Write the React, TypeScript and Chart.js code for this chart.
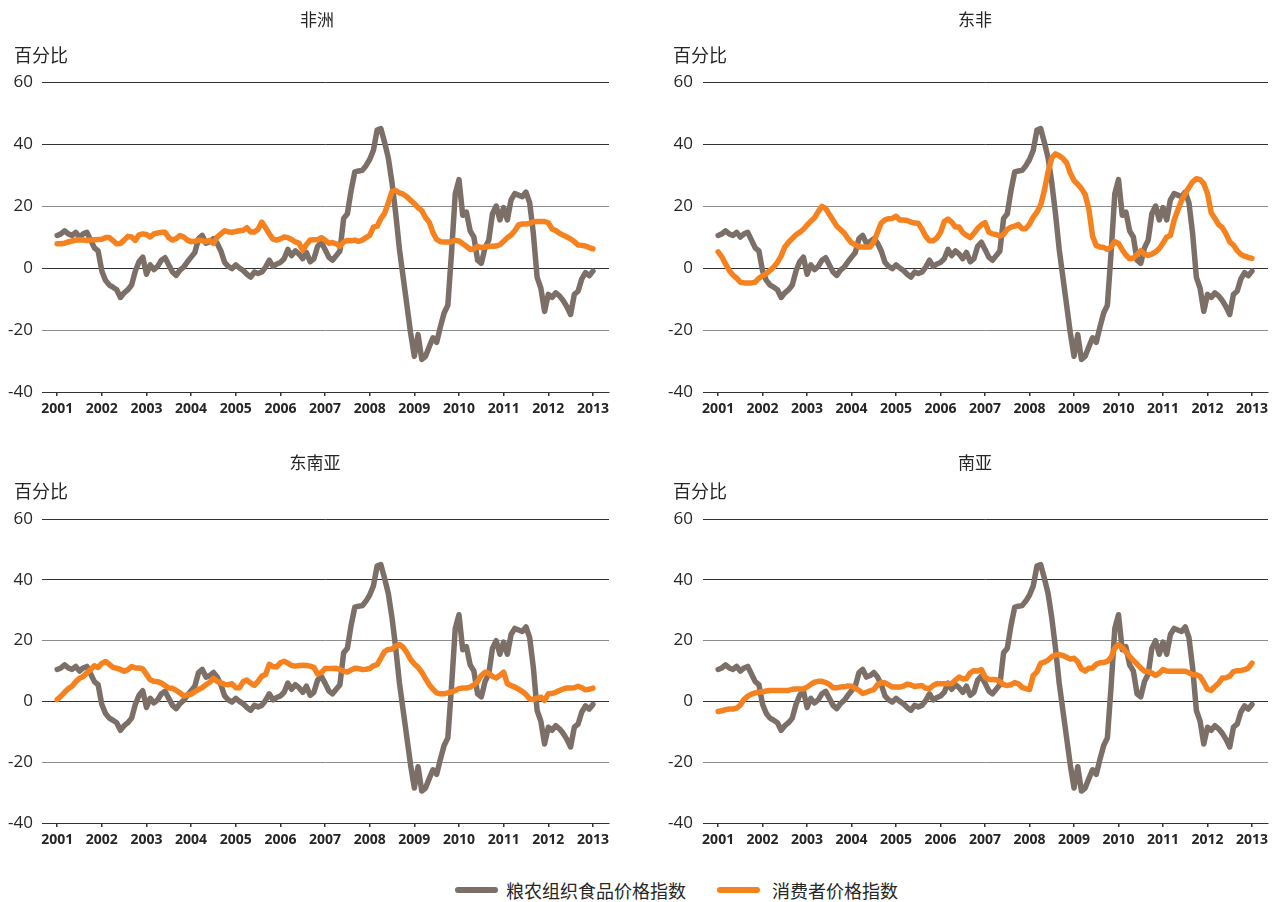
import React, { useEffect, useRef } from 'react';
import { Chart, registerables } from 'chart.js';

Chart.register(...registerables);

// ---------- data ----------
// monthly observations, Jan 2001 .. Jan 2013
const monthPositions: number[] = Array.from({ length: 145 }, (_, i) => 2001 + i / 12);
const yearTicks = [2001, 2002, 2003, 2004, 2005, 2006, 2007, 2008, 2009, 2010, 2011, 2012, 2013];
const valueTicks = [-40, -20, 0, 20, 40, 60];

const panelTitles = ['非洲', '东非', '东南亚', '南亚'];
const unitLabel = '百分比';
const seriesNames = ['粮农组织食品价格指数', '消费者价格指数'];

const faoFoodPriceIndex = [
  10.5, 11, 12, 11, 10.5, 11.5, 10, 11, 11.5, 9, 6.5, 5.5,
  -1, -4, -5.5, -6.2, -7, -9.5, -8, -7, -5.5, -1, 2, 3.5,
  -2, 1, -0.5, 0.5, 2.5, 3.3, 1, -1.3, -2.4, -0.7, 0.3, 2,
  3.5, 5, 9.5, 10.5, 8, 8.5, 9.5, 8, 5.5, 1.8, 0.5, -0.2,
  1, 0, -0.8, -2, -2.9, -1.3, -1.8, -1.3, 0.3, 2.5, 0.5, 1.3,
  1.8, 3, 6, 4, 5.5, 4.5, 3, 5, 2, 3, 7, 8.3,
  6, 3.5, 2.5, 4, 5.5, 16, 17.5, 25, 31, 31.3, 31.5, 33,
  35, 38, 44.5, 45, 40.5, 35.5, 27.5, 17.5, 6, -3, -12, -21,
  -28.5, -21.5, -29.5, -28.5, -25.4, -22.5, -24, -19, -14.5, -12, 5, 24,
  28.5, 17, 18, 12, 10, 2.5, 1.5, 6.5, 9, 17.5, 20, 15.5,
  19.5, 15.5, 22, 24, 23.5, 23, 24.5, 21, 11, -3, -6.5, -14,
  -8.5, -9.5, -8, -9, -10.5, -12.5, -15, -8.5, -7.5, -3.5, -1.5, -2.5, -1,
];

const cpiAfrica = [
  7.8, 7.8, 8, 8.4, 8.7, 9, 9.1, 9, 8.9, 9, 9.1, 9.2,
  9.3, 9.8, 9.8, 8.8, 7.8, 7.9, 9, 10.2, 10, 8.9, 10.7, 11,
  10.8, 10, 11, 11.3, 11.5, 11.5, 9.8, 9, 9.5, 10.5, 10, 9,
  8.5, 8.6, 9, 8.8, 8.5, 8.9, 7.9, 10, 11, 12, 11.7, 11.5,
  11.8, 12, 12.2, 13, 11.6, 11.6, 12.5, 14.8, 13, 11, 9.3, 9,
  9.4, 10, 9.8, 9.2, 8.4, 8, 5.7, 7.6, 9, 9.1, 9.1, 9.8,
  9, 8, 8.2, 7.8, 7, 8.4, 8.9, 8.8, 9, 8.6, 9, 9.8,
  10.5, 13.2, 13.5, 15.9, 17.6, 21, 24.7, 25, 24.2, 23.8, 23, 21.8,
  20.8, 19.5, 18.5, 16.3, 14.8, 11.4, 9.2, 8.5, 8.4, 8.4, 8.5, 8.9,
  8.7, 7.8, 7, 6, 6.1, 7, 6.6, 6.8, 7, 7, 7.1, 7.5,
  8.6, 9.8, 10.6, 12, 13.9, 14.2, 14.2, 14.4, 14.9, 15, 15, 15,
  14.6, 12.6, 12.1, 11.2, 10.6, 10, 9.4, 8.5, 7.4, 7.3, 7.1, 6.6, 6.2,
];

const cpiEastAfrica = [
  5.2, 3.6, 1.3, -0.8, -2.3, -3.3, -4.6, -4.8, -4.8, -4.8, -4.6, -3.3,
  -2.5, -1.8, -0.8, 0.3, 1.8, 3.9, 6.8, 8.3, 9.5, 10.7, 11.5, 12.5,
  13.8, 15.1, 16.2, 18.2, 19.9, 19.2, 17.3, 15.4, 13.5, 12.4, 11.3, 9.5,
  8.1, 7.5, 6.8, 6.8, 6.8, 6.8, 8.5, 11.5, 14.5, 15.5, 15.9, 16,
  16.7, 15.5, 15.5, 15.3, 14.8, 14.5, 14.4, 12.5, 10.2, 8.8, 8.8, 9.7,
  11.5, 15, 15.8, 14.8, 13.2, 13.2, 11.4, 10.5, 9.8, 11.2, 12.8, 13.9,
  14.6, 11.6, 11, 10.8, 10.3, 10.8, 12.5, 13.2, 13.5, 14, 12.7, 12.7,
  14.2, 16.4, 18, 20.3, 25, 31, 35.5, 36.8, 36.2, 35.3, 33.9, 30.6,
  28.2, 27, 25.6, 23.7, 19, 10.3, 7.2, 6.8, 6.6, 6, 6.8, 8.5,
  7.9, 5.9, 4.2, 3, 3.2, 4.4, 5.6, 4.4, 4.1, 4.5, 5.2, 6.3,
  8, 10, 10.5, 15.4, 18.7, 21.8, 24, 26, 27.8, 28.8, 28.5, 27.2,
  24, 17.8, 16, 14, 13, 11, 8.4, 7.4, 5.6, 4.4, 3.8, 3.4, 3.1,
];

const cpiSoutheastAsia = [
  0.6, 1.7, 3, 4.2, 5, 6.5, 7.6, 8.2, 9.4, 10.5, 11.7, 11.2,
  12.5, 13.1, 12.2, 11.2, 10.9, 10.5, 9.9, 10.4, 11.5, 11, 11, 10.7,
  8.9, 7.1, 6.6, 6.5, 6, 5.2, 4.4, 4.3, 3.6, 2.8, 1.8, 2.1,
  2.4, 3.2, 3.9, 4.5, 5.5, 6.3, 7.6, 6.6, 6.1, 5.6, 5.5, 5.8,
  4.5, 4.5, 6.5, 7, 6, 5.3, 6.6, 8.3, 8.8, 12.2, 11.4, 11.4,
  12.7, 13.2, 12.6, 11.8, 11.6, 11.8, 11.9, 11.8, 11.6, 11.2, 9, 9.5,
  10.8, 10.8, 10.8, 10.9, 10.5, 9.9, 9.7, 10.3, 10.9, 10.8, 10.5, 10.6,
  10.8, 11.7, 12.1, 14.2, 16.4, 17.1, 17.2, 18.2, 18.7, 17.8, 16, 13.8,
  12.3, 11.2, 9.6, 7.5, 5.5, 4, 2.8, 2.5, 2.5, 2.8, 3.1, 3.6,
  4.2, 4.4, 4.4, 4.7, 5.4, 6.5, 8.5, 9.6, 9.2, 8.2, 7.7, 8.6,
  9.6, 5.8, 5.2, 4.7, 4, 3.3, 2.3, 0.8, 0.6, 1.1, 1.4, 0.3,
  2.5, 2.6, 3, 3.6, 4.1, 4.4, 4.4, 4.5, 5, 4.5, 3.8, 4, 4.4,
];

const cpiSouthAsia = [
  -3.3, -3.1, -2.7, -2.5, -2.5, -2.2, -1.2, 0.7, 1.7, 2.4, 2.8, 3,
  3.2, 3.4, 3.6, 3.6, 3.6, 3.6, 3.6, 3.6, 4, 4.1, 4.1, 4.1,
  4.7, 5.6, 6.3, 6.6, 6.6, 6.2, 5.6, 4.5, 4.5, 4.7, 4.8, 5.1,
  5, 4.3, 3.6, 2.6, 3, 3.5, 3.9, 5.5, 6.2, 6.1, 5.4, 4.7,
  4.7, 4.7, 5, 5.7, 5.4, 4.9, 5.1, 5.2, 4.3, 4.2, 5.2, 5.8,
  5.8, 5.8, 5.8, 5.9, 7, 8, 7.4, 7.5, 9.4, 10.1, 10, 10.5,
  8, 7.2, 7.2, 7.1, 6.5, 5.5, 5.2, 5.5, 6.2, 5.8, 4.6, 4.2,
  3.9, 8.5, 9.7, 12.5, 12.9, 13.6, 14.7, 15.3, 15.4, 15.1, 14.5, 13.9,
  14.2, 13, 10.7, 10, 10.9, 11, 12.2, 12.7, 12.8, 13.2, 14.5, 17.5,
  18.7, 17.7, 16.3, 14.8, 13.5, 12.3, 11, 9.9, 9.8, 9.3, 8.5, 9.3,
  10.5, 10, 9.9, 9.9, 9.9, 9.9, 9.9, 9.4, 8.8, 8.8, 8.2, 6.3,
  4, 3.6, 4.9, 6, 7.7, 7.8, 8.3, 9.8, 10.1, 10.2, 10.4, 11, 12.6,
];

// ---------- styling ----------
const GRAY = '#7b6f67';
const ORANGE = '#f5821f';
const TEXT = '#262626';
const CJK = "'Noto Sans CJK SC', 'Noto Sans', sans-serif";
const NUM = "'Open Sans', 'Noto Sans', sans-serif";

type PanelProps = {
  title: string;
  cpi: number[];
  left: number;
  top: number;
  width: number;
  height: number;
  padLeft: number;
  padRight: number;
  padTop: number;
  yWidth: number;
  yPad: number;
  titleX: number;
  titleY: number;
  unitX: number;
  unitY: number;
};

function Panel(p: PanelProps) {
  const ref = useRef<HTMLCanvasElement | null>(null);
  useEffect(() => {
    if (!ref.current) return;
    const toPts = (arr: number[]) => arr.map((v, i) => ({ x: monthPositions[i], y: v }));
    const headerPlugin = {
      id: 'panelHeader',
      afterDraw(chart: any) {
        const ctx = chart.ctx;
        ctx.save();
        ctx.fillStyle = TEXT;
        ctx.textBaseline = 'middle';
        ctx.textAlign = 'center';
        ctx.font = `normal 17px ${CJK}`;
        ctx.fillText(p.title, p.titleX, p.titleY);
        ctx.textAlign = 'left';
        ctx.font = `normal 18px ${CJK}`;
        ctx.fillText(unitLabel, p.unitX, p.unitY);
        ctx.restore();
      },
    };
    const chart = new Chart(ref.current, {
      type: 'line',
      data: {
        datasets: [
          {
            label: seriesNames[1],
            data: toPts(p.cpi),
            borderColor: ORANGE,
            backgroundColor: ORANGE,
            borderWidth: 5.5,
            pointRadius: 0,
            tension: 0,
            borderJoinStyle: 'round',
            borderCapStyle: 'round',
            order: 0,
          },
          {
            label: seriesNames[0],
            data: toPts(faoFoodPriceIndex),
            borderColor: GRAY,
            backgroundColor: GRAY,
            borderWidth: 5.5,
            pointRadius: 0,
            tension: 0,
            borderJoinStyle: 'round',
            borderCapStyle: 'round',
            order: 1,
          },
        ],
      },
      options: {
        animation: false,
        responsive: false,
        maintainAspectRatio: false,
        layout: { padding: { left: p.padLeft, right: p.padRight, top: p.padTop, bottom: 0 } },
        plugins: {
          legend: { display: false },
          tooltip: { enabled: false },
          title: { display: false },
        },
        scales: {
          x: {
            type: 'linear',
            min: 2000.66,
            max: 2013.36,
            afterBuildTicks: (s: any) => {
              s.ticks = yearTicks.map((v) => ({ value: v }));
            },
            afterFit: (s: any) => {
              s.height = 30;
            },
            ticks: {
              autoSkip: false,
              maxRotation: 0,
              color: TEXT,
              padding: 5,
              font: { family: NUM, size: 14, weight: 'bold' },
              callback: (v: any) => String(v),
            },
            grid: {
              drawOnChartArea: false,
              drawTicks: true,
              tickLength: 4,
              color: '#333333',
              lineWidth: 1.5,
            },
            border: { display: true, color: '#333333', width: 1 },
          },
          y: {
            min: -40,
            max: 60,
            afterBuildTicks: (s: any) => {
              s.ticks = valueTicks.map((v) => ({ value: v }));
            },
            afterFit: (s: any) => {
              s.width = p.yWidth;
            },
            ticks: {
              color: TEXT,
              padding: p.yPad,
              font: { family: NUM, size: 17 },
            },
            grid: {
              drawTicks: false,
              lineWidth: 1,
              color: (ctx: any) => {
                const v = ctx.tick ? ctx.tick.value : 0;
                return v === 20 || v === -20 ? '#8c8c8c' : '#333333';
              },
            },
            border: { display: false },
          },
        },
      },
      plugins: [headerPlugin],
    } as any);
    return () => chart.destroy();
  }, []);
  return (
    <div style={{ position: 'absolute', left: p.left, top: p.top, width: p.width, height: p.height }}>
      <canvas ref={ref} width={p.width} height={p.height} style={{ display: 'block', width: p.width, height: p.height }} />
    </div>
  );
}

function LegendItem({ color, label, swatchLeft, textLeft }: { color: string; label: string; swatchLeft: number; textLeft: number }) {
  return (
    <>
      <div style={{ position: 'absolute', left: swatchLeft, top: 887, width: 43, height: 6, borderRadius: 3, background: color }} />
      <div
        style={{
          position: 'absolute',
          left: textLeft,
          top: 877,
          height: 26,
          lineHeight: '26px',
          fontFamily: CJK,
          fontSize: 18,
          color: TEXT,
          whiteSpace: 'nowrap',
        }}
      >
        {label}
      </div>
    </>
  );
}

export default function App() {
  const cpis = [cpiAfrica, cpiEastAfrica, cpiSoutheastAsia, cpiSouthAsia];
  return (
    <div style={{ position: 'absolute', left: 0, top: 0, width: 1285, height: 902, background: '#ffffff', overflow: 'hidden' }}>
      <Panel title={panelTitles[0]} cpi={cpis[0]} left={0} top={0} width={640} height={422} padLeft={2} padRight={31} padTop={82} yWidth={40} yPad={9} titleX={317} titleY={20} unitX={14} unitY={55} />
      <Panel title={panelTitles[1]} cpi={cpis[1]} left={640} top={0} width={645} height={422} padLeft={22} padRight={17} padTop={82} yWidth={41} yPad={10} titleX={335} titleY={20} unitX={33} unitY={55} />
      <Panel title={panelTitles[2]} cpi={cpis[2]} left={0} top={440} width={640} height={413} padLeft={2} padRight={31} padTop={79} yWidth={40} yPad={9} titleX={315} titleY={23} unitX={14} unitY={51} />
      <Panel title={panelTitles[3]} cpi={cpis[3]} left={640} top={440} width={645} height={413} padLeft={22} padRight={17} padTop={79} yWidth={41} yPad={10} titleX={335} titleY={23} unitX={33} unitY={51} />
      <LegendItem color={GRAY} label={seriesNames[0]} swatchLeft={455} textLeft={506} />
      <LegendItem color={ORANGE} label={seriesNames[1]} swatchLeft={717} textLeft={772} />
    </div>
  );
}
